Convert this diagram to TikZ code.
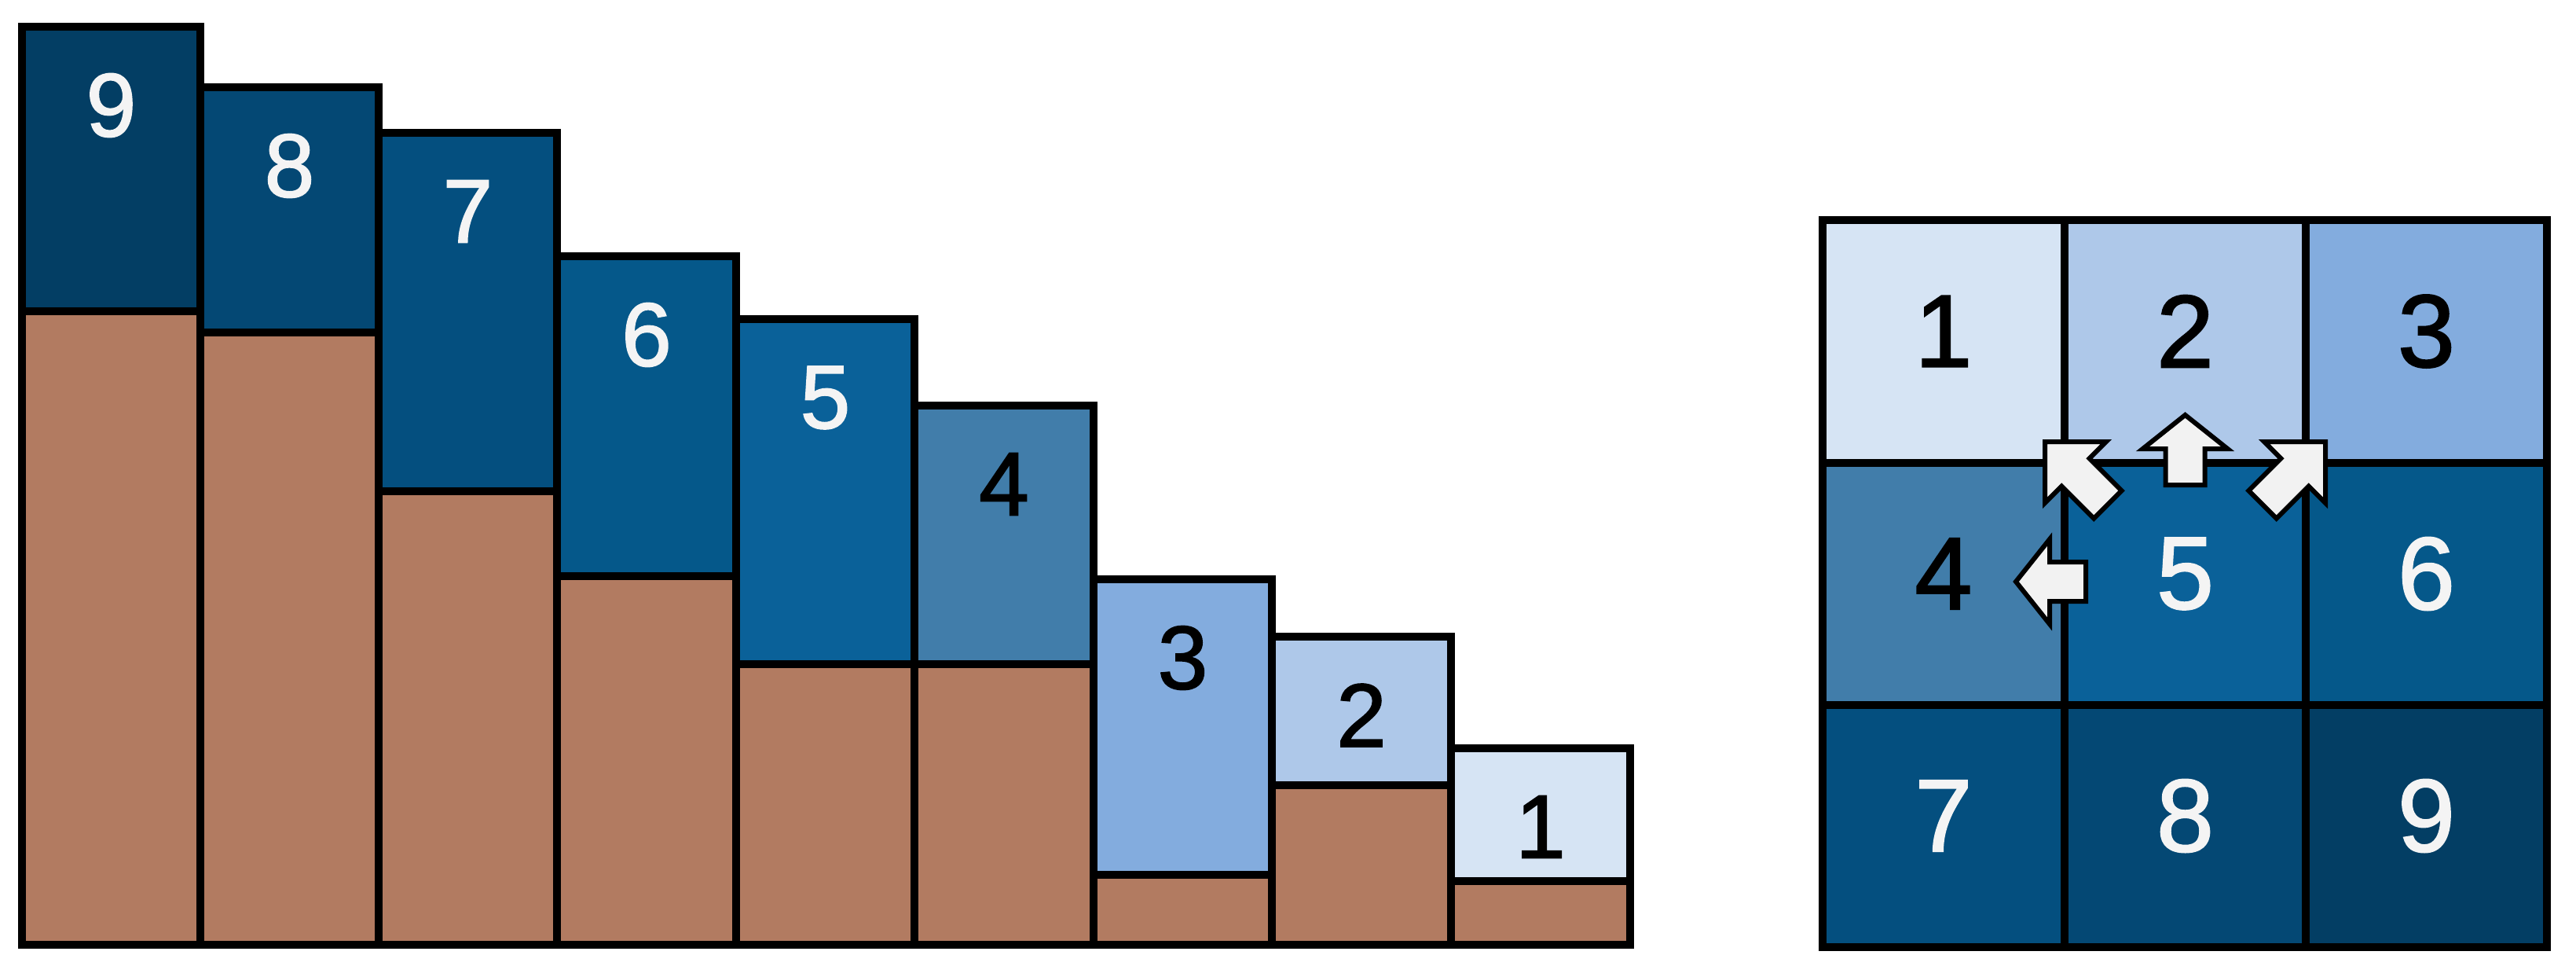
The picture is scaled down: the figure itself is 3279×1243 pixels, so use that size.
\documentclass[tikz,border=0pt]{standalone}
\usepackage{fontspec}
\setmainfont{Liberation Sans}
\newfontfamily\digitfont[FakeBold=1.6]{Liberation Sans}
\definecolor{cI}{HTML}{D6E4F4}
\definecolor{cII}{HTML}{AEC8E9}
\definecolor{cIII}{HTML}{83ACDE}
\definecolor{cIV}{HTML}{417DAA}
\definecolor{cV}{HTML}{0A6199}
\definecolor{cVI}{HTML}{05588A}
\definecolor{cVII}{HTML}{044F7F}
\definecolor{cVIII}{HTML}{044874}
\definecolor{cIX}{HTML}{033E64}
\definecolor{brownfill}{HTML}{B27B61}
\definecolor{lighttext}{HTML}{F4F4F4}
\definecolor{arrowfill}{HTML}{F2F2F2}
\tikzset{
  barbox/.style={draw=black, line width=2.3pt, line join=miter},
  cellbox/.style={draw=black, line width=2.3pt, line join=miter},
  barlabel/.style={font=\digitfont\fontsize{28.6}{30}\selectfont, inner sep=0pt},
  celllabel/.style={font=\digitfont\fontsize{32.8}{34}\selectfont, inner sep=0pt},
  blockarrow/.style={draw=black, fill=arrowfill, line width=1.5pt, line join=miter},
}
\newcommand\myarrow[8]{% name, x, y, angle, hl, hw, sw, L
  \draw[blockarrow, shift={(#2,#3)}, rotate=#4]
    (0,0) -- (-#5,-#6) -- (-#5,-#7) -- (-#8,-#7) -- (-#8,#7) -- (-#5,#7) -- (-#5,#6) -- cycle;
  \coordinate (#1) at (#2,#3);
}
\begin{document}
\begin{tikzpicture}[x=0.25pt,y=-0.25pt]
\useasboundingbox (0,0) rectangle (3279,1243);
% ---------- left: stacked bars ----------
\foreach \n/\xl/\xr/\top/\mid/\col/\tc in {
  9/28/255/34/396/cIX/lighttext,
  8/255/482/111/423/cVIII/lighttext,
  7/482/709/169/625/cVII/lighttext,
  6/709/937/326/733/cVI/lighttext,
  5/937/1164/406/845/cV/lighttext,
  4/1164/1392/516/845/cIV/black,
  3/1392/1619/737/1113/cIII/black,
  2/1619/1847/810/999/cII/black,
  1/1847/2075/952/1121/cI/black}{
  \fill[brownfill] (\xl,\mid) rectangle (\xr,1202);
  \fill[\col] (\xl,\top) rectangle (\xr,\mid);
  \draw[barbox] (\xl,\mid) rectangle (\xr,1202);
  \draw[barbox] (\xl,\top) rectangle (\xr,\mid);
  \node[barlabel, text=\tc] (bar\n) at ({(\xl+\xr)/2},{\top+100}) {\n};
}
% ---------- right: 3x3 grid ----------
\foreach \n/\xl/\xr/\yt/\yb/\col/\tc in {
  1/2320/2628/280/589/cI/black,
  2/2628/2935/280/589/cII/black,
  3/2935/3242/280/589/cIII/black,
  4/2320/2628/589/897/cIV/black,
  5/2628/2935/589/897/cV/lighttext,
  6/2935/3242/589/897/cVI/lighttext,
  7/2320/2628/897/1205/cVII/lighttext,
  8/2628/2935/897/1205/cVIII/lighttext,
  9/2935/3242/897/1205/cIX/lighttext}{
  \fill[\col] (\xl,\yt) rectangle (\xr,\yb);
  \node[celllabel, text=\tc] (cell\n) at ({(\xl+\xr)/2},{(\yt+\yb)/2-13}) {\n};
}
\foreach \xx in {2628,2935} \draw[cellbox] (\xx,280) -- (\xx,1205);
\foreach \yy in {589,897} \draw[cellbox] (2320,\yy) -- (3242,\yy);
\draw[cellbox] (2320,280) rectangle (3242,1205);
% ---------- block arrows from cell 5 ----------
\myarrow{aup}{2781.5}{528}{90}{43}{54}{25}{89}
\myarrow{aleft}{2566}{740}{180}{43}{54}{25}{89}
\myarrow{aupleft}{2603}{562}{135}{55}{55}{25}{113}
\myarrow{aupright}{2960}{562}{45}{55}{55}{25}{113}
\end{tikzpicture}
\end{document}
